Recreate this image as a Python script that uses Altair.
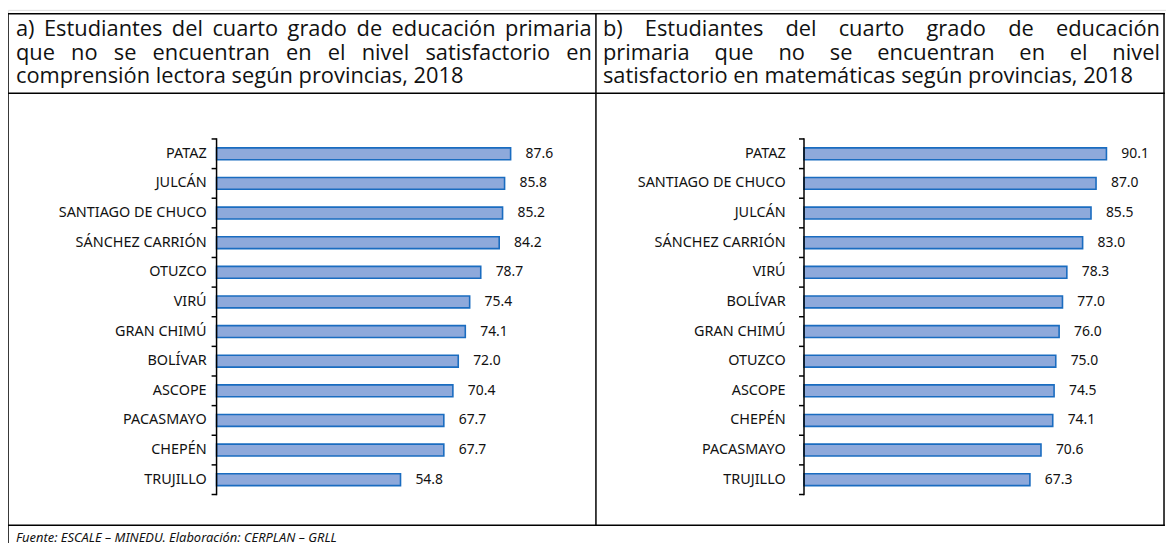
import altair as alt
import pandas as pd

# ---------------- data ----------------
prov_a = ["PATAZ", "JULCÁN", "SANTIAGO DE CHUCO", "SÁNCHEZ CARRIÓN", "OTUZCO", "VIRÚ",
          "GRAN CHIMÚ", "BOLÍVAR", "ASCOPE", "PACASMAYO", "CHEPÉN", "TRUJILLO"]
val_a = [87.6, 85.8, 85.2, 84.2, 78.7, 75.4, 74.1, 72.0, 70.4, 67.7, 67.7, 54.8]

prov_b = ["PATAZ", "SANTIAGO DE CHUCO", "JULCÁN", "SÁNCHEZ CARRIÓN", "VIRÚ", "BOLÍVAR",
          "GRAN CHIMÚ", "OTUZCO", "ASCOPE", "CHEPÉN", "PACASMAYO", "TRUJILLO"]
val_b = [90.1, 87.0, 85.5, 83.0, 78.3, 77.0, 76.0, 75.0, 74.5, 74.1, 70.6, 67.3]

title_a = ["a) Estudiantes del cuarto grado de educación primaria",
           "que no se encuentran en el nivel satisfactorio en",
           "comprensión lectora según provincias, 2018"]
title_b = ["b) Estudiantes del cuarto grado de educación",
           "primaria que no se encuentran en el nivel",
           "satisfactorio en matemáticas según provincias, 2018"]
footer = "Fuente: ESCALE – MINEDU. Elaboración: CERPLAN – GRLL"

# ---------------- style / layout ----------------
W, H = 1166, 540
BAR_FILL = "#8EA9DB"
BAR_STROKE = "#1A6CC0"
LABEL_FONT = "Noto Sans"
TITLE_FONT = "Open Sans"
TITLE_SIZE = 22
LABEL_SIZE = 14.5
VALUE_SIZE = 14
Y0, Y1 = 130, 488
STEP = (Y1 - Y0) / 12.0
LINE = 1.5

one = pd.DataFrame({"k": [0]})


def rule(x1, x2, y1, y2, width=LINE):
    return alt.Chart(one).mark_rule(color="black", strokeWidth=width, strokeCap="square").encode(
        x=alt.value(x1), x2=alt.value(x2), y=alt.value(y1), y2=alt.value(y2))


# Open Sans advance widths (units of 2048) for justification of title lines
CW = {" ": 532, "a": 1139, "b": 1255, "c": 975, "d": 1255, "e": 1149, "f": 694, "g": 1122,
      "h": 1257, "i": 518, "j": 518, "k": 1075, "l": 518, "m": 1905, "n": 1257, "o": 1237,
      "p": 1255, "q": 1255, "r": 836, "s": 977, "t": 723, "u": 1257, "v": 1026, "w": 1593,
      "x": 1073, "y": 1028, "z": 954, "á": 1139, "é": 1149, "í": 518, "ó": 1237, "ú": 1257,
      ")": 608, ",": 502, ".": 545, "E": 1139}


def wwidth(word, size):
    return sum(CW.get(c, 1171) for c in word) / 2048.0 * size


def title_words(lines, left, right, ys, size):
    rows = []
    for li, (line, y) in enumerate(zip(lines, ys)):
        words = line.split(" ")
        if li == len(lines) - 1:
            rows.append({"w": line, "x": left, "y": y})
            continue
        widths = [wwidth(w, size) for w in words]
        gap = (right - left - sum(widths)) / (len(words) - 1)
        x = left
        for w, wd in zip(words, widths):
            rows.append({"w": w, "x": x, "y": y})
            x += wd + gap
    return rows


def panel(provs, vals, x0, label_x):
    df = pd.DataFrame({"prov": provs, "val": vals})
    yenc = alt.Y("prov:N", sort=provs, axis=None,
                 scale=alt.Scale(range=[Y0, Y1], paddingInner=0.6, paddingOuter=0.3))
    xenc = alt.X("val:Q", axis=None, scale=alt.Scale(domain=[0, 100], range=[x0, x0 + 338]))
    base = alt.Chart(df)
    bars = base.mark_bar(fill=BAR_FILL, stroke=BAR_STROKE, strokeWidth=1.6).encode(x=xenc, y=yenc)
    vlab = base.mark_text(align="left", baseline="middle", dx=15, font=LABEL_FONT,
                          fontSize=VALUE_SIZE, color="#111").encode(
        x=xenc, y=yenc, text=alt.Text("val:Q", format=".1f"))
    clab = base.mark_text(align="right", baseline="middle", font=LABEL_FONT,
                          fontSize=LABEL_SIZE, color="#111").encode(
        x=alt.value(label_x), y=yenc, text="prov:N")
    ticks = base.mark_rule(color="black", strokeWidth=LINE, yOffset=-STEP / 2).encode(
        y=yenc, x=alt.value(x0 - 5), x2=alt.value(x0))
    last = base.transform_filter(alt.datum.prov == provs[-1]).mark_rule(
        color="black", strokeWidth=LINE, yOffset=STEP / 2).encode(
        y=yenc, x=alt.value(x0 - 5), x2=alt.value(x0))
    axis_line = rule(x0, x0, Y0, Y1)
    return alt.layer(bars, vlab, clab, ticks, last, axis_line)


pa = panel(prov_a, val_a, 210, 200)
pb = panel(prov_b, val_b, 801.5, 783)

ys = [26, 50, 74]
tw = pd.DataFrame(title_words(title_a, 8, 588, ys, TITLE_SIZE) +
                  title_words(title_b, 599, 1160, ys, TITLE_SIZE))
titles = alt.Chart(tw).mark_text(align="left", baseline="alphabetic", font=TITLE_FONT,
                                 fontSize=TITLE_SIZE, color="#111").encode(
    x=alt.X("x:Q", scale=None, axis=None), y=alt.Y("y:Q", scale=None, axis=None), text="w:N")

foot = alt.Chart(pd.DataFrame({"t": [footer]})).mark_text(
    align="left", baseline="alphabetic", font=LABEL_FONT, fontSize=13, fontStyle="italic",
    color="#111").encode(x=alt.value(8), y=alt.value(536), text="t:N")

borders = [
    rule(0, 1164, 4, 4), rule(0, 1164, 84, 84), rule(0, 1164, 519, 519),
    rule(0, 0, 4, 545), rule(592, 592, 4, 519), rule(1164, 1164, 4, 519),
]

chart = alt.layer(pa, pb, titles, foot, *borders).resolve_scale(
    x="independent", y="independent").properties(
    width=W, height=H, padding=0, autosize=alt.AutoSizeParams(type="none")
).configure_view(stroke=None).configure(background="white")

chart.save("out.html", embed_options={"renderer": "svg", "actions": False})
